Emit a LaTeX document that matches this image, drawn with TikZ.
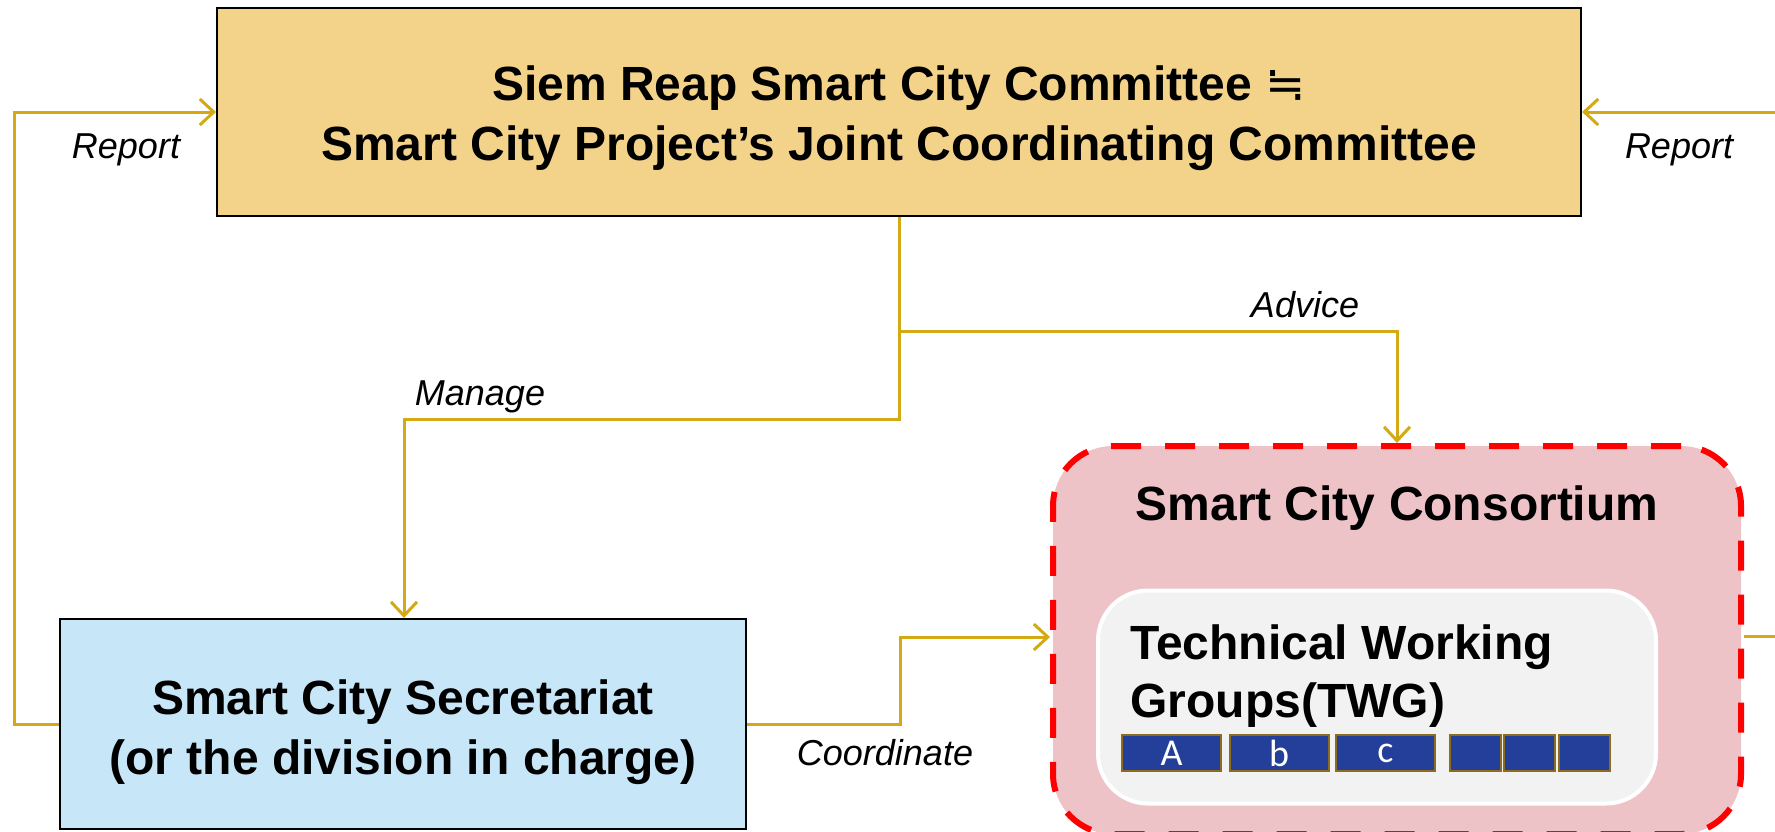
\documentclass[tikz,border=0pt]{standalone}
\usepackage{fontspec}
\setmainfont{Liberation Sans}
\newfontfamily\symfnt{DejaVu Sans}
\newfontfamily\calfnt{Carlito}
\usetikzlibrary{arrows.meta}
\definecolor{topfill}{HTML}{F3D28A}
\definecolor{secfill}{HTML}{C7E6F8}
\definecolor{consfill}{HTML}{EEC3C8}
\definecolor{twgfill}{HTML}{F2F2F2}
\definecolor{gold}{HTML}{D4AA14}
\definecolor{tblue}{HTML}{233F99}
\definecolor{tbord}{HTML}{8C6D1F}
\tikzset{
  mainbox/.style={draw=black, line width=1pt, inner sep=0pt, align=center,
    font=\bfseries\fontsize{24}{30}\selectfont},
  conn/.style={draw=gold, line width=1.5pt},
  arr/.style={conn, -{Straight Barb[length=7pt,width=13pt,line width=1.5pt]}},
  lbl/.style={font=\itshape\fontsize{18}{22}\selectfont, inner sep=0pt},
  tbox/.style={draw=tbord, fill=tblue, line width=1pt, minimum height=18pt, inner sep=0pt,
    text=white, font=\calfnt\fontsize{19}{19}\selectfont},
}
\begin{document}
\begin{tikzpicture}[x=0.5pt,y=-0.5pt]
\useasboundingbox (0,0) rectangle (1775,831);
% main boxes
\node[draw=black, line width=1pt, fill=topfill, minimum width=682pt, minimum height=104pt] (top) at (899,112) {};
\node[inner sep=0pt, align=center, font=\bfseries\fontsize{24}{30}\selectfont] (toptext) at (899,118)
  {Siem Reap Smart City Committee {\symfnt\mdseries ≒}\\Smart City Project’s Joint Coordinating Committee};
\node[draw=black, line width=1pt, fill=secfill, minimum width=343pt, minimum height=105pt] (sec) at (403,724) {};
\node[inner sep=0pt, align=center, font=\bfseries\fontsize{24}{30}\selectfont] (sectext) at (403,732)
  {Smart City Secretariat\\(or the division in charge)};
\node[draw=red, fill=consfill, line width=3pt, dash pattern=on 15pt off 12pt, rounded corners=30pt,
  minimum width=344pt, minimum height=194pt, inner sep=0pt] (cons) at (1397,640) {};
\node[font=\bfseries\fontsize{24}{30}\selectfont, inner sep=0pt] (constitle) at (1397,508) {Smart City Consortium};
\node[draw=white, fill=twgfill, line width=2pt, rounded corners=25pt,
  minimum width=279pt, minimum height=106.5pt, inner sep=0pt] (twg) at (1377,697) {};
\node[anchor=west, align=left, inner sep=0pt, font=\bfseries\fontsize{24}{29}\selectfont] (twgtext) at (1130,676)
  {Technical Working\\Groups(TWG)};
\node[tbox, minimum width=49.5pt] (ga) at (1171.5,753) {A};
\node[tbox, minimum width=49.5pt] (gb) at (1279,753) {b};
\node[tbox, minimum width=49.5pt] (gc) at (1385.5,753) {c};
\node[tbox, minimum width=25.5pt] (gd) at (1475.5,753) {};
\node[tbox, minimum width=25.5pt] (ge) at (1529.5,753) {};
\node[tbox, minimum width=25.5pt] (gf) at (1584,753) {};
% connectors
\coordinate (lx) at (14,112);
\draw[arr] (sec.west) -| (lx) -- (top.west);
\coordinate (rr1) at (1775,636);
\coordinate (rr2) at (1775,112);
\draw[conn] (rr1 -| cons.east) -- (rr1);
\draw[arr] (rr2) -- (top.east);
\coordinate (mg) at (404,419);
\draw[arr] (top.south) |- (mg) -- (mg |- sec.north);
\coordinate (br) at (899,331);
\draw[arr] (br) -| (cons.north);
\coordinate (cx) at (900,680);
\draw[arr] (sec.east) -| (cx) |- (cons.west |- 0,637);
% labels
\node[lbl] (l1) at (126,150) {Report};
\node[lbl] (l2) at (1679,150) {Report};
\node[lbl] (l3) at (480,397) {Manage};
\node[lbl] (l4) at (1305,305) {Advice};
\node[lbl] (l5) at (885,753) {Coordinate};
\end{tikzpicture}
\end{document}
